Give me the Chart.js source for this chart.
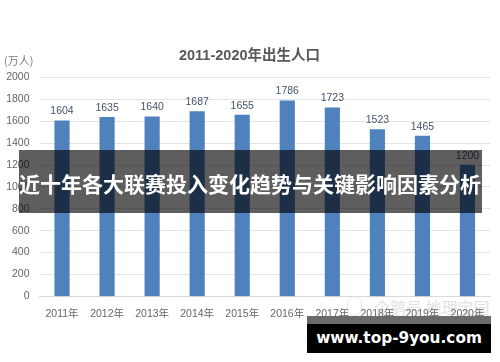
<!DOCTYPE html>
<html>
<head>
<meta charset="utf-8">
<script src="https://cdn.jsdelivr.net/npm/chart.js@4"></script>
<style>
    html, body { margin: 0; padding: 0; background: #fff; }
    #wrap { position: relative; width: 500px; height: 362px; overflow: hidden; }
    #chart { position: absolute; left: 0; top: 0; z-index: 1; }
    .unit { position: absolute; z-index: 2; left: 4px; top: 52px; font: 11px "Noto Sans CJK SC"; color: #7f7f7f; }
    .banner {
        position: absolute; z-index: 2; left: 19px; top: 150px; width: 463px; height: 63px;
        background: rgba(0, 0, 0, 0.63); color: #fff;
        font: bold 21px/67px "Noto Sans CJK SC"; white-space: nowrap;
    }
    .mark { position: absolute; left: 374px; top: 297px; font: 16px/20px "Noto Sans CJK SC"; color: #e2e2e2; white-space: nowrap; }
    .blob { position: absolute; left: 347px; top: 296px; width: 13px; height: 18px; border: 1px solid #e6e6e6; border-radius: 8px; }
    .site-top { position: absolute; z-index: 2; left: 307px; top: 316px; width: 184px; height: 8px; background: #6a6a6a; }
    .site {
        position: absolute; z-index: 2; left: 307px; top: 324px; width: 184px; height: 29px;
        background: #000; color: #fff; text-align: center;
        font: bold 15.3px/28px "DejaVu Sans"; white-space: nowrap;
    }
</style>
</head>
<body>
<div id="wrap">
    <div class="blob"></div>
    <div class="mark">企鹅号 地理宝园</div>
    <canvas id="chart" width="500" height="362"></canvas>
    <div class="unit">(万人)</div>
    <div class="banner">近十年各大联赛投入变化趋势与关键影响因素分析</div>
    <div class="site-top"></div>
    <div class="site">www.top-9you.com</div>
</div>
<script>
const years = ['2011年', '2012年', '2013年', '2014年', '2015年', '2016年', '2017年', '2018年', '2019年', '2020年'];
const births = [1604, 1635, 1640, 1687, 1655, 1786, 1723, 1523, 1465, 1200];
const yTicks = [0, 200, 400, 600, 800, 1000, 1200, 1400, 1600, 1800, 2000];

// Draw the value above each bar
const valueLabels = {
    id: 'valueLabels',
    afterLayout(chart) {
        // title sits centred on the whole picture, not on the padded box
        chart.titleBlock.left += 2.5;
        chart.titleBlock.right += 2.5;
    },
    afterDatasetsDraw(chart) {
        const ctx = chart.ctx;
        const meta = chart.getDatasetMeta(0);
        ctx.save();
        ctx.font = '10.5px "Liberation Sans"';
        ctx.fillStyle = '#44546a';
        ctx.textAlign = 'center';
        ctx.textBaseline = 'bottom';
        meta.data.forEach((bar, i) => {
            ctx.fillText(births[i], bar.x, bar.y - 4);
        });
        ctx.restore();
    }
};

new Chart(document.getElementById('chart').getContext('2d'), {
    type: 'bar',
    data: {
        labels: years,
        datasets: [{
            data: births,
            backgroundColor: '#4f81bd',
            barThickness: 14.5
        }]
    },
    options: {
        responsive: false,
        animation: false,
        layout: { padding: { left: 4, right: 10, top: 0, bottom: 31 } },
        plugins: {
            legend: { display: false },
            tooltip: { enabled: false },
            title: {
                display: true,
                text: '2011-2020年出生人口',
                color: '#595959',
                font: { family: '"Liberation Sans", "Noto Sans CJK SC"', size: 14.5, weight: 'bold' },
                padding: { top: 47, bottom: 13 }
            }
        },
        scales: {
            x: {
                grid: { display: false, drawTicks: false },
                border: { color: '#d9d9d9' },
                ticks: {
                    color: '#666666',
                    font: { family: '"Liberation Sans", "Noto Sans CJK SC"', size: 10.5 },
                    maxRotation: 0,
                    padding: 11
                }
            },
            y: {
                min: 0,
                max: 2000,
                afterBuildTicks(axis) { axis.ticks = yTicks.map(v => ({ value: v })); },
                afterFit(axis) { axis.width = 35.5; },
                grid: { color: '#e4e4e4', drawTicks: false },
                border: { display: false },
                ticks: {
                    color: '#666666',
                    font: { family: '"Liberation Sans"', size: 10.5 },
                    padding: 10,
                    callback: v => String(v)
                }
            }
        }
    },
    plugins: [valueLabels]
});
</script>
</body>
</html>
